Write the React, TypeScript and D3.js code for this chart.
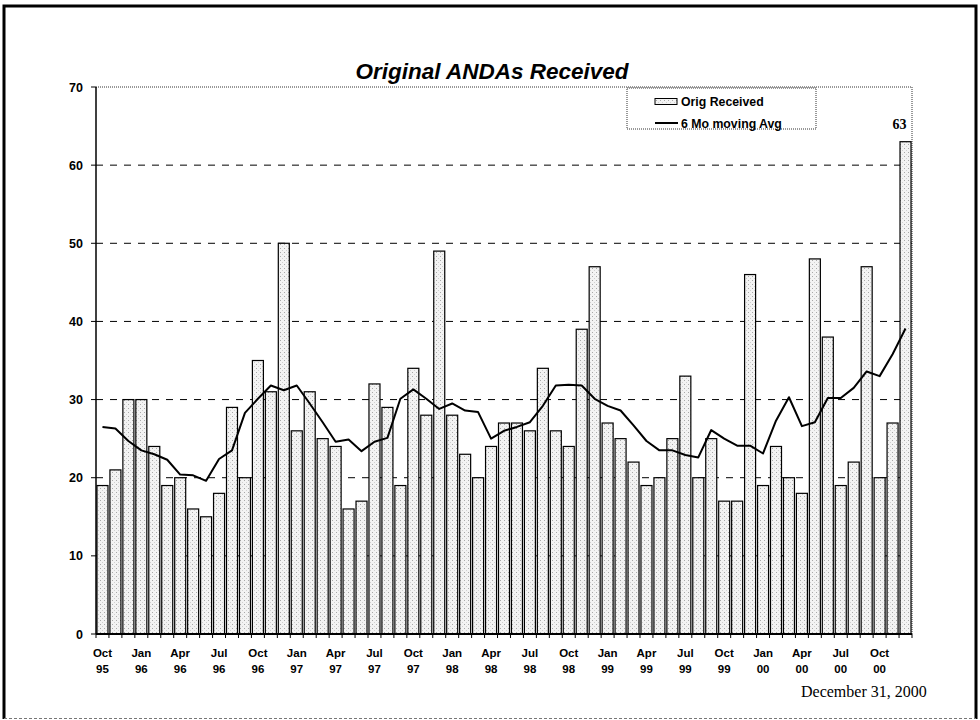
import React from "react";
import * as d3 from "d3";

const months = [
  "Oct 95","Nov 95","Dec 95",
  "Jan 96","Feb 96","Mar 96","Apr 96","May 96","Jun 96","Jul 96","Aug 96","Sep 96","Oct 96","Nov 96","Dec 96",
  "Jan 97","Feb 97","Mar 97","Apr 97","May 97","Jun 97","Jul 97","Aug 97","Sep 97","Oct 97","Nov 97","Dec 97",
  "Jan 98","Feb 98","Mar 98","Apr 98","May 98","Jun 98","Jul 98","Aug 98","Sep 98","Oct 98","Nov 98","Dec 98",
  "Jan 99","Feb 99","Mar 99","Apr 99","May 99","Jun 99","Jul 99","Aug 99","Sep 99","Oct 99","Nov 99","Dec 99",
  "Jan 00","Feb 00","Mar 00","Apr 00","May 00","Jun 00","Jul 00","Aug 00","Sep 00","Oct 00","Nov 00","Dec 00",
];

const origReceived = [
  19, 21, 30, 30, 24, 19, 20, 16, 15, 18,
  29, 20, 35, 31, 50, 26, 31, 25, 24, 16,
  17, 32, 29, 19, 34, 28, 49, 28, 23, 20,
  24, 27, 27, 26, 34, 26, 24, 39, 47, 27,
  25, 22, 19, 20, 25, 33, 20, 25, 17, 17,
  46, 19, 24, 20, 18, 48, 38, 19, 22, 47,
  20, 27, 63,
];

const movingAvg = [
  26.5, 26.3, 24.7, 23.5, 23.0, 22.3, 20.4, 20.3, 19.6, 22.4,
  23.5, 28.3, 30.1, 31.8, 31.2, 31.8, 29.5, 27.1, 24.6, 24.9,
  23.4, 24.6, 25.1, 30.1, 31.3, 30.1, 28.8, 29.5, 28.6, 28.4,
  25.0, 26.0, 26.5, 27.1, 29.2, 31.8, 31.9, 31.8, 30.1, 29.2,
  28.6, 26.7, 24.7, 23.5, 23.5, 22.9, 22.6, 26.1, 25.0, 24.1,
  24.1, 23.1, 27.3, 30.3, 26.6, 27.1, 30.2, 30.2, 31.5, 33.6,
  33.0, 35.8, 39.1,
];

const yTicks = [0, 10, 20, 30, 40, 50, 60, 70];
const gridValues = [10, 20, 30, 40, 50, 60];
const labelledMonths = months.filter((_, i) => i % 3 === 0);

const title = "Original ANDAs Received";
const legendLabels = ["Orig Received", "6 Mo moving Avg"];
const dateText = "December 31, 2000";
const lastValueLabel = "63";

const SANS = "'Liberation Sans', Arial, sans-serif";
const SERIF = "'Liberation Serif', 'Times New Roman', serif";

export default function App() {
  const W = 980, H = 720;
  const left = 96, right = 912, top = 87, bottom = 634;

  const x = d3.scaleBand<string>().domain(months).range([left, right]).paddingInner(0.15).paddingOuter(0.075);
  const y = d3.scaleLinear().domain([0, 70]).range([bottom, top]);
  const step = x.step();

  const line = d3
    .line<number>()
    .x((_, i) => (x(months[i]) as number) + x.bandwidth() / 2)
    .y((d) => y(d));

  const lastIdx = origReceived.length - 1;

  return (
    <svg
      width={W}
      height={H}
      style={{ position: "absolute", left: 0, top: 0, background: "#fff" }}
      xmlns="http://www.w3.org/2000/svg"
    >
      <defs>
        <pattern id="stipple" width="4" height="4" patternUnits="userSpaceOnUse">
          <rect width="4" height="4" fill="#f3f3f3" />
          <rect x="0" y="0" width="1" height="1" fill="#a8a8a8" />
          <rect x="2" y="2" width="1" height="1" fill="#d0d0d0" />
        </pattern>
      </defs>

      {/* outer frame */}
      <rect x={0} y={0} width={W} height={H} fill="#fff" />
      <path d={`M4,719 L4,6 L976,6 L976,719`} fill="none" stroke="#000" strokeWidth={3} />
      <line x1={4} x2={976} y1={718.5} y2={718.5} stroke="#777" strokeWidth={1} strokeDasharray="3,2" />

      {/* title */}
      <text
        x={492}
        y={79}
        textAnchor="middle"
        fontFamily={SANS}
        fontWeight="bold"
        fontStyle="italic"
        fontSize={22.5}
        fill="#000"
      >
        {title}
      </text>

      {/* gridlines */}
      {gridValues.map((v) => (
        <line
          key={v}
          x1={left}
          x2={right}
          y1={y(v)}
          y2={y(v)}
          stroke="#000"
          strokeWidth={1}
          strokeDasharray="7,7"
        />
      ))}
      {/* top and right dotted border */}
      <line x1={left} x2={right} y1={y(70)} y2={y(70)} stroke="#333" strokeWidth={1} strokeDasharray="1,1" />
      <line x1={right} x2={right} y1={y(70)} y2={bottom} stroke="#333" strokeWidth={1} strokeDasharray="1,1" />

      {/* bars */}
      {origReceived.map((v, i) => (
        <rect
          key={months[i]}
          x={x(months[i])}
          y={y(v)}
          width={x.bandwidth()}
          height={bottom - y(v)}
          fill="url(#stipple)"
          stroke="#000"
          strokeWidth={1.2}
        />
      ))}

      {/* moving average */}
      <path d={line(movingAvg) || ""} fill="none" stroke="#000" strokeWidth={2} strokeLinejoin="round" />

      {/* last value label */}
      <text
        x={(x(months[lastIdx]) as number) + x.bandwidth() / 2 - 6}
        y={y(origReceived[lastIdx]) - 13}
        textAnchor="middle"
        fontFamily={SERIF}
        fontWeight="bold"
        fontSize={14}
        fill="#000"
      >
        {lastValueLabel}
      </text>

      {/* y axis */}
      <line x1={left} x2={left} y1={top} y2={bottom} stroke="#000" strokeWidth={1.5} />
      {yTicks.map((t) => (
        <g key={t}>
          <line x1={left - 5} x2={left} y1={y(t)} y2={y(t)} stroke="#000" strokeWidth={1} />
          <text
            x={left - 13}
            y={y(t) + 4.5}
            textAnchor="end"
            fontFamily={SANS}
            fontWeight="bold"
            fontSize={12.5}
            fill="#000"
          >
            {t}
          </text>
        </g>
      ))}

      {/* x axis */}
      <line x1={left} x2={right} y1={bottom} y2={bottom} stroke="#000" strokeWidth={2} />
      {d3.range(months.length + 1).map((i) => (
        <line
          key={`tk${i}`}
          x1={left + i * step}
          x2={left + i * step}
          y1={bottom}
          y2={bottom + 4}
          stroke="#000"
          strokeWidth={1}
        />
      ))}
      {labelledMonths.map((m) => {
        const [mo, yr] = m.split(" ");
        const cx = (x(m) as number) + x.bandwidth() / 2;
        return (
          <text key={m} textAnchor="middle" fontFamily={SANS} fontWeight="bold" fontSize={11.5} fill="#000">
            <tspan x={cx} y={657}>{mo}</tspan>
            <tspan x={cx} y={673}>{yr}</tspan>
          </text>
        );
      })}

      {/* legend */}
      <rect x={627} y={88} width={189} height={41} fill="#fff" stroke="#333" strokeWidth={1} strokeDasharray="1,1" />
      <rect x={655} y={98.5} width={22} height={6} fill="url(#stipple)" stroke="#000" strokeWidth={1} />
      <text x={681} y={106} fontFamily={SANS} fontWeight="bold" fontSize={12.3} fill="#000">
        {legendLabels[0]}
      </text>
      <line x1={655} x2={678} y1={123} y2={123} stroke="#000" strokeWidth={2} />
      <text x={681} y={127.5} fontFamily={SANS} fontWeight="bold" fontSize={12.3} fill="#000">
        {legendLabels[1]}
      </text>

      {/* date */}
      <text x={801} y={696.5} fontFamily={SERIF} fontSize={16} fill="#000">
        {dateText}
      </text>
    </svg>
  );
}
